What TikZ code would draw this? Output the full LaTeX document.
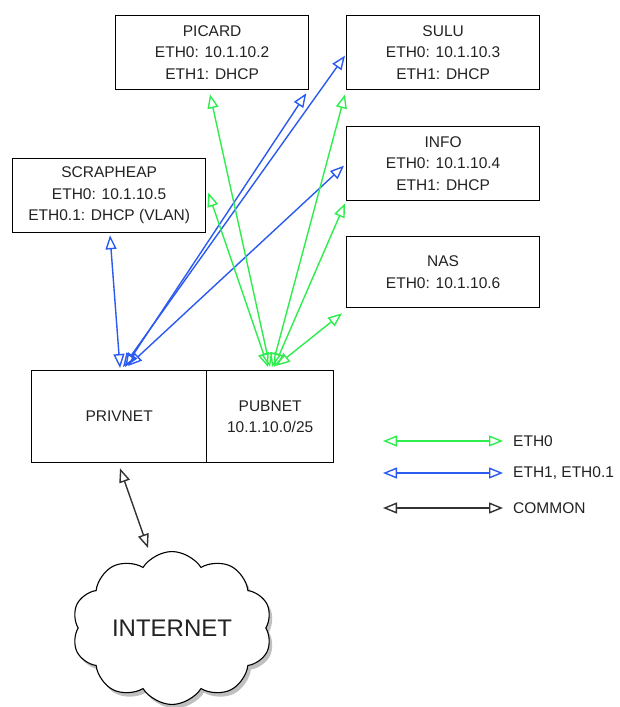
\documentclass[tikz,border=0pt]{standalone}
\usepackage{fontspec}
\setmainfont{Liberation Sans}
\usetikzlibrary{arrows.meta,shapes.symbols,shadows,calc}
\definecolor{ethgreen}{HTML}{2EEE4E}
\definecolor{ethblue}{HTML}{2A5AF0}
\definecolor{txt}{HTML}{222222}
\begin{document}
\begin{tikzpicture}[x=1pt,y=-1pt,
  hostbox/.style={draw=black,line width=1.3pt,anchor=north west,inner sep=0pt,
    minimum width=193pt,minimum height=74pt,align=center,font=\fontsize{15.5}{21.5}\selectfont,text=txt},
  netbox/.style={draw=black,line width=1.3pt,anchor=north west,inner sep=0pt,
    minimum height=92pt,align=center,font=\fontsize{15.5}{21.5}\selectfont,text=txt},
  conn/.style={line width=1.4pt,{Triangle[open,length=14pt,width=11pt]}-{Triangle[open,length=14pt,width=11pt]}},
  gconn/.style={conn,ethgreen},
  bconn/.style={conn,ethblue},
  kconn/.style={conn,black!80},
  legtext/.style={anchor=west,font=\fontsize{15.5}{18}\selectfont,text=txt,inner sep=0pt}]
\useasboundingbox (0,0) rectangle (619,707);
\fill[white] (0,0) rectangle (619,707);

% hosts
\node[hostbox] (picard) at (115,15) {PICARD\\ETH0: 10.1.10.2\\ETH1: DHCP};
\node[hostbox] (sulu) at (346,15) {SULU\\ETH0: 10.1.10.3\\ETH1: DHCP};
\node[hostbox] (info) at (346,126) {INFO\\ETH0: 10.1.10.4\\ETH1: DHCP};
\node[hostbox,minimum height=71pt] (nas) at (346,236) {NAS\\ETH0: 10.1.10.6};
\node[hostbox] (scrap) at (12,158) {SCRAPHEAP\\ETH0: 10.1.10.5\\ETH0.1: DHCP (VLAN)};

% networks
\node[netbox,minimum width=175pt] (priv) at (31,370) {PRIVNET};
\node[netbox,minimum width=127pt] (pub) at (206,370) {PUBNET\\10.1.10.0/25};

% cloud
\node[cloud,cloud puffs=10,cloud puff arc=115,aspect=1.3,draw=black,line width=1.1pt,fill=white,
  minimum width=200pt,minimum height=152pt,inner sep=0pt,
  drop shadow={shadow xshift=3pt,shadow yshift=-4pt,opacity=0.35,fill=black!70},
  font=\fontsize{24}{28}\selectfont,text=txt] (inet) at (172,628) {INTERNET};

% connector end points
\coordinate (pb) at ($(priv.north west)+(91,-3)$);
\coordinate (gb) at ($(pub.north west)+(66,-3)$);

% blue (ETH1 / ETH0.1)
\draw[bconn] ($(scrap.south west)+(98,2)$) -- ($(pb)+(-2,1)$);
\draw[bconn] ($(picard.south east)+(-3,3)$) -- ($(pb)+(3,0)$);
\draw[bconn] ($(sulu.west)+(-1,3)$) -- ($(pb)+(1,0)$);
\draw[bconn] ($(info.west)+(-2,2)$) -- ($(pb)+(6,-1)$);

% green (ETH0)
\draw[gconn] ($(picard.south west)+(95,4)$) -- ($(gb)+(-2,0)$);
\draw[gconn] ($(scrap.east)+(2,-3)$) -- ($(gb)+(-4,0)$);
\draw[gconn] ($(sulu.south west)+(-1,4)$) -- ($(gb)+(0,0)$);
\draw[gconn] ($(info.south west)+(-1,2)$) -- ($(gb)+(2,0)$);
\draw[gconn] ($(nas.south west)+(-4,5)$) -- ($(gb)+(4,-1)$);

% common
\draw[kconn] ($(priv.south west)+(89,5)$) -- ($(inet.north)+(-24,-3)$);

% legend
\node[legtext] (lg) at (513,441) {ETH0};
\node[legtext] (lb) at (513,473) {ETH1, ETH0.1};
\node[legtext] (lk) at (513,508) {COMMON};
\coordinate (lgs) at (383,441);
\coordinate (lbs) at (383,473);
\coordinate (lks) at (383,508);
\draw[gconn] (lgs) -- ($(lg.west)+(-10,0)$);
\draw[bconn] (lbs) -- ($(lb.west)+(-10,0)$);
\draw[kconn] (lks) -- ($(lk.west)+(-10,0)$);
\end{tikzpicture}
\end{document}
